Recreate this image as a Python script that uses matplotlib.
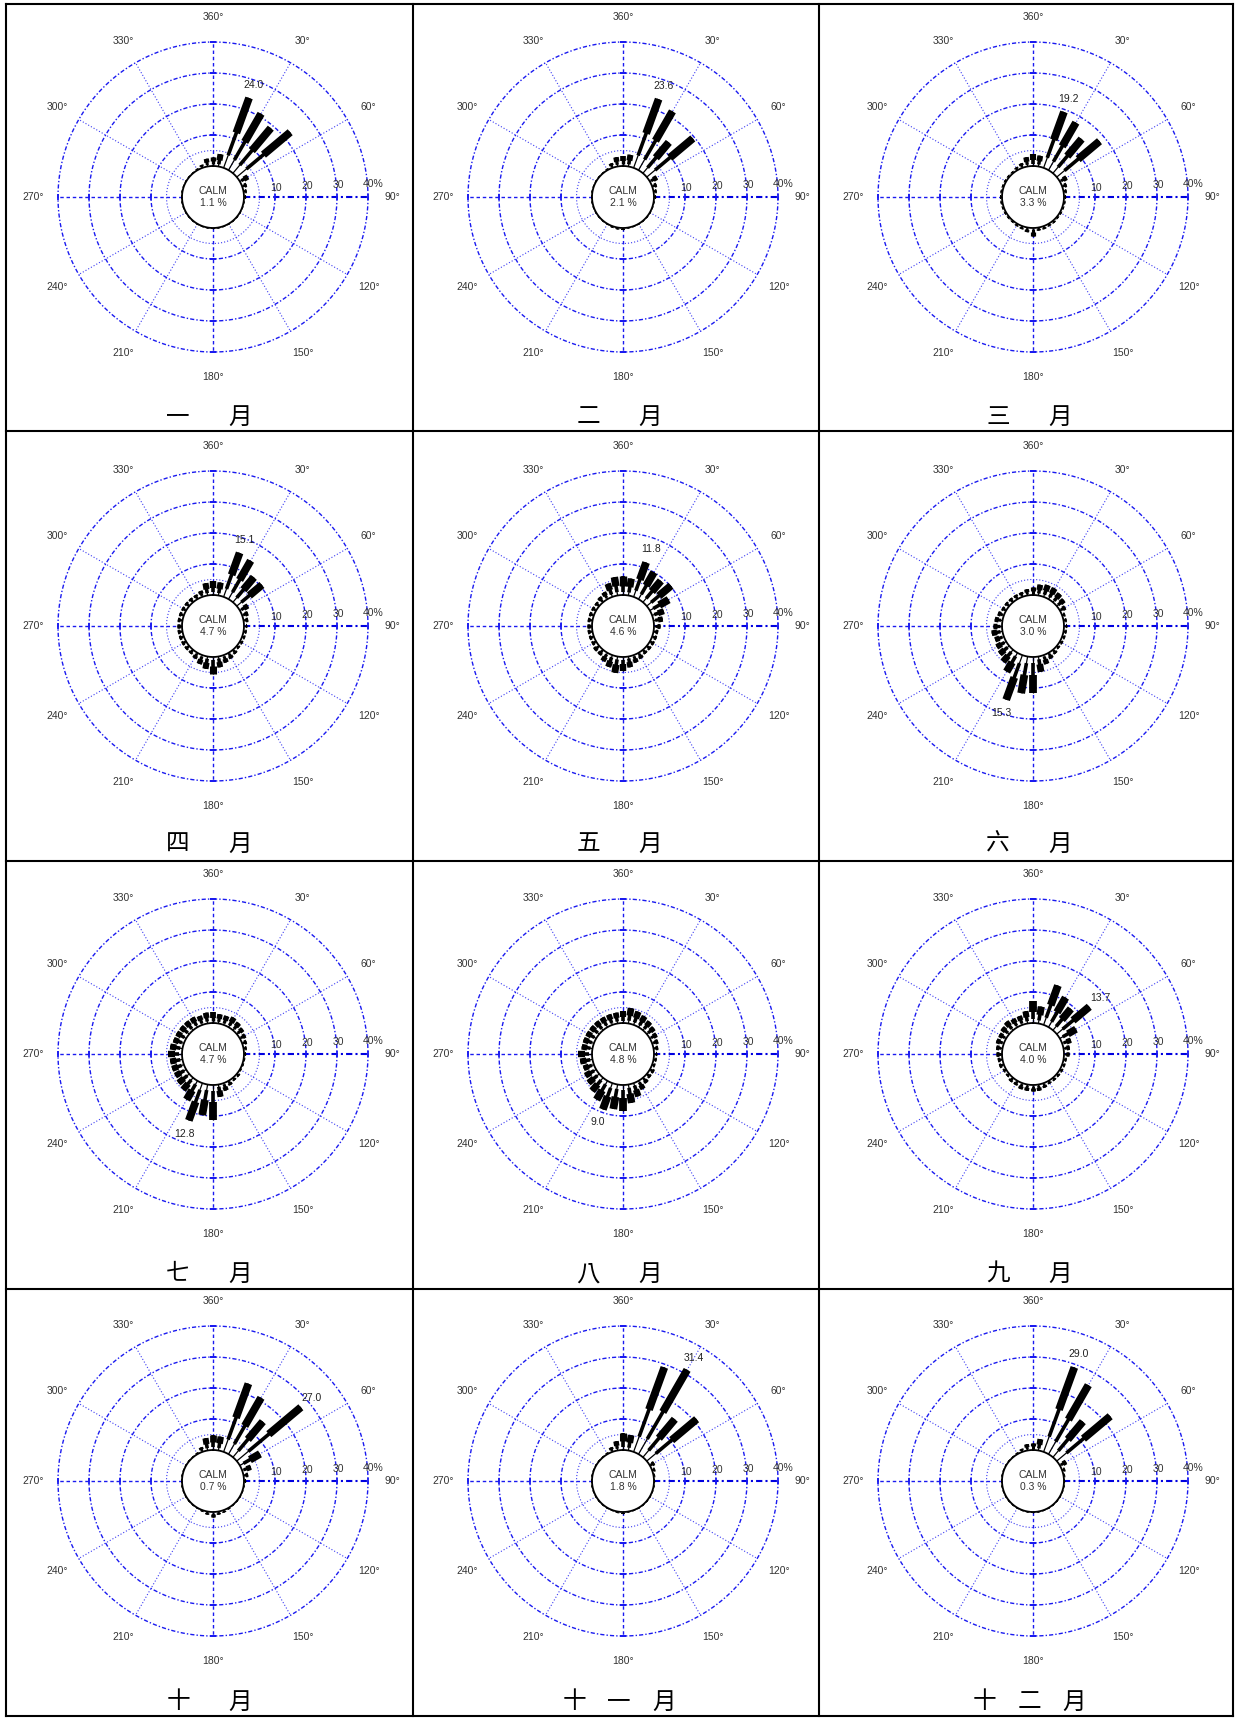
import numpy as np
import matplotlib
matplotlib.use('Agg')
import matplotlib.pyplot as plt

W, H = 1237, 1718
plt.rcParams['font.family'] = ['Liberation Sans', 'DejaVu Sans']

# wind directions of the bars, degrees clockwise from north
DIRS = [10, 20, 30, 40, 50, 60, 70, 80, 90, 100, 110, 120,
        130, 140, 150, 160, 170, 180, 190, 200, 210, 220, 230, 240,
        250, 260, 270, 280, 290, 300, 310, 320, 330, 340, 350, 360]

MONTH_NAMES = ['一月', '二月', '三月', '四月', '五月', '六月',
               '七月', '八月', '九月', '十月', '十一月', '十二月']
CALM = [1.1, 2.1, 3.3, 4.7, 4.6, 3.0, 4.7, 4.8, 4.0, 0.7, 1.8, 0.3]

# frequency (%) per direction, 10deg .. 360deg
JAN = [4, 24.0, 21, 19, 22.5, 3, 1.5, 1, 0.5, 0.3, 0.3, 0.3,
       0.3, 0.3, 0.3, 0.3, 0.3, 0.3, 0.3, 0.3, 0.3, 0.3, 0.3, 0.3,
       0.3, 0.3, 0.3, 0.3, 0.3, 0.3, 0.3, 0.3, 0.5, 1, 2.5, 3]
FEB = [3.8, 23.6, 21.9, 13, 19.4, 2.6, 1.5, 1, 0.5, 0.3, 0.3, 0.3,
       0.3, 0.3, 0.3, 0.3, 0.3, 0.6, 0.6, 0.5, 0.3, 0.3, 0.3, 0.3,
       0.3, 0.3, 0.3, 0.3, 0.3, 0.3, 0.3, 0.3, 0.5, 1.5, 3, 3.3]
MAR = [3.5, 19.2, 17.7, 14.4, 18, 2.5, 1.5, 1, 0.8, 0.6, 0.6, 0.6,
       0.6, 0.8, 0.8, 1, 1, 2.5, 1.5, 1, 0.8, 0.6, 0.6, 0.6,
       0.6, 0.6, 0.6, 0.6, 0.6, 0.6, 0.6, 0.6, 1, 1.5, 3, 4]
APR = [4.2, 15.1, 14.3, 10.5, 10.6, 3, 2, 1.5, 1, 1, 1, 1,
       1, 1.5, 2, 2.5, 3.5, 5.5, 4, 3, 2, 1.5, 1.5, 1.5,
       1.5, 1.5, 1.5, 1.5, 1.5, 1.5, 1.5, 1.5, 1.5, 2, 4, 4.5]
MAY = [5.5, 11.8, 10, 9, 10.2, 7, 4, 3, 2, 1.5, 1.5, 1.5,
       1.5, 1.5, 2, 2.5, 3.5, 4.5, 5.3, 4, 3, 2, 2, 1.5,
       1.5, 1.5, 1.5, 1.5, 1.5, 1.5, 1.5, 2, 2.5, 4.5, 6, 6]
JUN = [3.5, 4, 4, 3.5, 3, 2, 1, 1, 1, 1, 1, 1,
       1, 1.5, 2, 3, 5, 11.5, 12, 15.3, 7, 5, 4, 3.5,
       3, 3.5, 3, 2.5, 2, 1.5, 1.5, 1.5, 1.5, 1.5, 2, 2.5]
JUL = [3, 3, 3.5, 3, 2.5, 2, 1.5, 1, 0.5, 0.5, 0.5, 0.5,
       1, 1, 1.5, 2.5, 4, 11.2, 10, 12.8, 7, 5, 4.5, 4,
       4, 4, 4.5, 4, 3.5, 3.5, 3.5, 3.5, 3.5, 3, 3.5, 3.5]
AUG = [5, 4.5, 4, 3.5, 3, 2.5, 2, 1.5, 1, 1, 1, 1.5,
       1.5, 2, 3, 4.5, 6, 8.5, 8, 9.0, 7, 5.5, 4.5, 4,
       3.5, 4, 4.5, 3.5, 3.5, 3.5, 3.5, 3.5, 3.5, 3.5, 3.5, 4]
SEP = [5.5, 13.5, 11, 9, 13.7, 6, 3, 2, 1.5, 1, 1, 1,
       1, 1, 1, 1.5, 2, 2, 2, 2, 1.5, 1.5, 1, 1,
       1.5, 1.5, 2, 2, 2.5, 2.5, 3, 3.5, 3, 3, 4, 7]
OCT = [4.5, 23.4, 21, 15, 27.0, 7.5, 3, 1.5, 0.5, 0.3, 0.3, 0.3,
       0.3, 0.3, 0.5, 0.8, 1, 1.5, 1, 0.5, 0.3, 0.3, 0.3, 0.3,
       0.3, 0.3, 0.3, 0.3, 0.3, 0.3, 0.3, 0.3, 0.5, 1.5, 4, 5]
NOV = [5, 29, 31.4, 16, 21, 1.6, 1, 0.5, 0.3, 0.3, 0.3, 0.3,
       0.3, 0.3, 0.3, 0.3, 0.3, 0.5, 0.5, 0.3, 0.3, 0.3, 0.3, 0.3,
       0.3, 0.3, 0.3, 0.3, 0.3, 0.3, 0.3, 0.3, 0.5, 1.5, 3, 5.5]
DEC = [3.7, 29.0, 25.7, 15, 22.5, 2.3, 1, 0.5, 0.3, 0.3, 0.3, 0.3,
       0.3, 0.3, 0.3, 0.3, 0.3, 0.3, 0.3, 0.3, 0.3, 0.3, 0.3, 0.3,
       0.3, 0.3, 0.3, 0.3, 0.3, 0.3, 0.3, 0.3, 0.5, 1, 2, 2.4]
FREQ = [JAN, FEB, MAR, APR, MAY, JUN, JUL, AUG, SEP, OCT, NOV, DEC]

RING_VALUES = [10, 20, 30, 40]
RING_LABELS = ['10', '20', '30', '40%']
ANGLE_TICKS = [0, 30, 60, 90, 120, 150, 180, 210, 240, 270, 300, 330]
ANGLE_LABELS = ['360°', '30°', '60°', '90°', '120°', '150°',
                '180°', '210°', '240°', '270°', '300°', '330°']

BLUE = '#1a1af0'
CALM_R = 10          # radius of the calm circle, in % units
PX_PER_UNIT = 3.1
RMAX = 62

COL_X = [6, 413, 819, 1233]
ROW_Y = [4, 431, 861, 1289, 1716]
CENTER_X = [213, 623, 1033]
CENTER_Y = [197, 626, 1054, 1481]


def draw_rose(ax, freq, calm):
    ax.set_theta_zero_location('N')
    ax.set_theta_direction(-1)
    ax.set_ylim(0, RMAX)
    ax.set_axis_off()

    full = np.linspace(0, 2 * np.pi, 400)
    # inner 5% ring
    ax.plot(full, np.full_like(full, CALM_R + 5), color=BLUE, lw=0.8,
            ls=(0, (1, 1.8)), alpha=0.85)
    for v in RING_VALUES:
        ax.plot(full, np.full_like(full, CALM_R + v), color=BLUE, lw=1.0,
                ls=(0, (3, 1.5, 1, 1.5)))

    # spokes
    for a, lab in zip(ANGLE_TICKS, ANGLE_LABELS):
        t = np.deg2rad(a)
        if a == 90:
            ax.plot([t, t], [CALM_R, CALM_R + 40], color='#0000e0', lw=1.5,
                    ls=(0, (3, 1.5, 1, 1.5)))
        elif a in (0, 180, 270):
            ax.plot([t, t], [CALM_R, CALM_R + 40], color=BLUE, lw=1.0,
                    ls=(0, (2.5, 2)))
        else:
            ax.plot([t, t], [CALM_R, CALM_R + 40], color=BLUE, lw=0.8,
                    ls=(0, (1, 1.8)), alpha=0.85)
        ax.text(t, 58, lab, ha='center', va='center', fontsize=7.5,
                color='#333333')

    # tick marks where the main axes cross the rings
    rr = [CALM_R + v for v in RING_VALUES]
    for a, m in [(0, '_'), (180, '_'), (90, '|'), (270, '|')]:
        ax.plot(np.full(len(rr), np.deg2rad(a)), rr, ls='none', marker=m,
                ms=5, mew=1.3, color=BLUE)

    for i, (v, lab) in enumerate(zip(RING_VALUES, RING_LABELS)):
        ax.annotate(lab, (np.pi / 2, CALM_R + v),
                    xytext=(4 if i == 3 else 1, 3 + i),
                    textcoords='offset points', ha='center', va='bottom',
                    fontsize=7.5, color='#333333')

    # calm circle
    ax.plot(full, np.full_like(full, CALM_R), color='black', lw=1.3)

    # bars: thin stem, medium and thick outer part
    for d, f in zip(DIRS, freq):
        t = np.deg2rad(d)
        wide = min(5.6, 2.6 + 0.45 * f)
        ax.plot([t, t], [CALM_R, CALM_R + f], color='black', lw=0.9,
                solid_capstyle='butt')
        ax.plot([t, t], [CALM_R + 0.18 * f, CALM_R + f], color='black',
                lw=min(2.6, wide * 0.6), solid_capstyle='butt')
        ax.plot([t, t], [CALM_R + 0.5 * f, CALM_R + f], color='black',
                lw=wide, solid_capstyle='butt')

    k = int(np.argmax(freq))
    ax.text(np.deg2rad(DIRS[k]), CALM_R + freq[k] + 4.5, f'{freq[k]:.1f}',
            ha='center', va='center', fontsize=7.5, color='#222222')

    ax.text(0, 0, f'CALM\n{calm:.1f} %', ha='center', va='center',
            fontsize=7.5, color='#333333', linespacing=1.35)


fig = plt.figure(figsize=(W / 100, H / 100), dpi=100)
bg = fig.add_axes([0, 0, 1, 1])
bg.set_xlim(0, W)
bg.set_ylim(H, 0)
bg.axis('off')
for x in COL_X:
    bg.plot([x, x], [ROW_Y[0], ROW_Y[-1]], color='black', lw=1.5)
for y in ROW_Y:
    bg.plot([COL_X[0], COL_X[-1]], [y, y], color='black', lw=1.5)

R = RMAX * PX_PER_UNIT
for m in range(12):
    row, col = divmod(m, 3)
    cx, cy = CENTER_X[col], CENTER_Y[row]
    ax = fig.add_axes([(cx - R) / W, 1 - (cy + R) / H, 2 * R / W, 2 * R / H],
                      projection='polar')
    draw_rose(ax, FREQ[m], CALM[m])

    name = MONTH_NAMES[m]
    step = 62 if len(name) == 2 else 45
    ly = ROW_Y[row] + 413
    x0 = cx - 4 - step * (len(name) - 1) / 2
    for j, ch in enumerate(name):
        bg.text(x0 + j * step, ly, ch, ha='center', va='center', fontsize=17,
                family=['Noto Sans CJK TC', 'DejaVu Sans'], color='black')

fig.savefig('out.png', dpi=100)
